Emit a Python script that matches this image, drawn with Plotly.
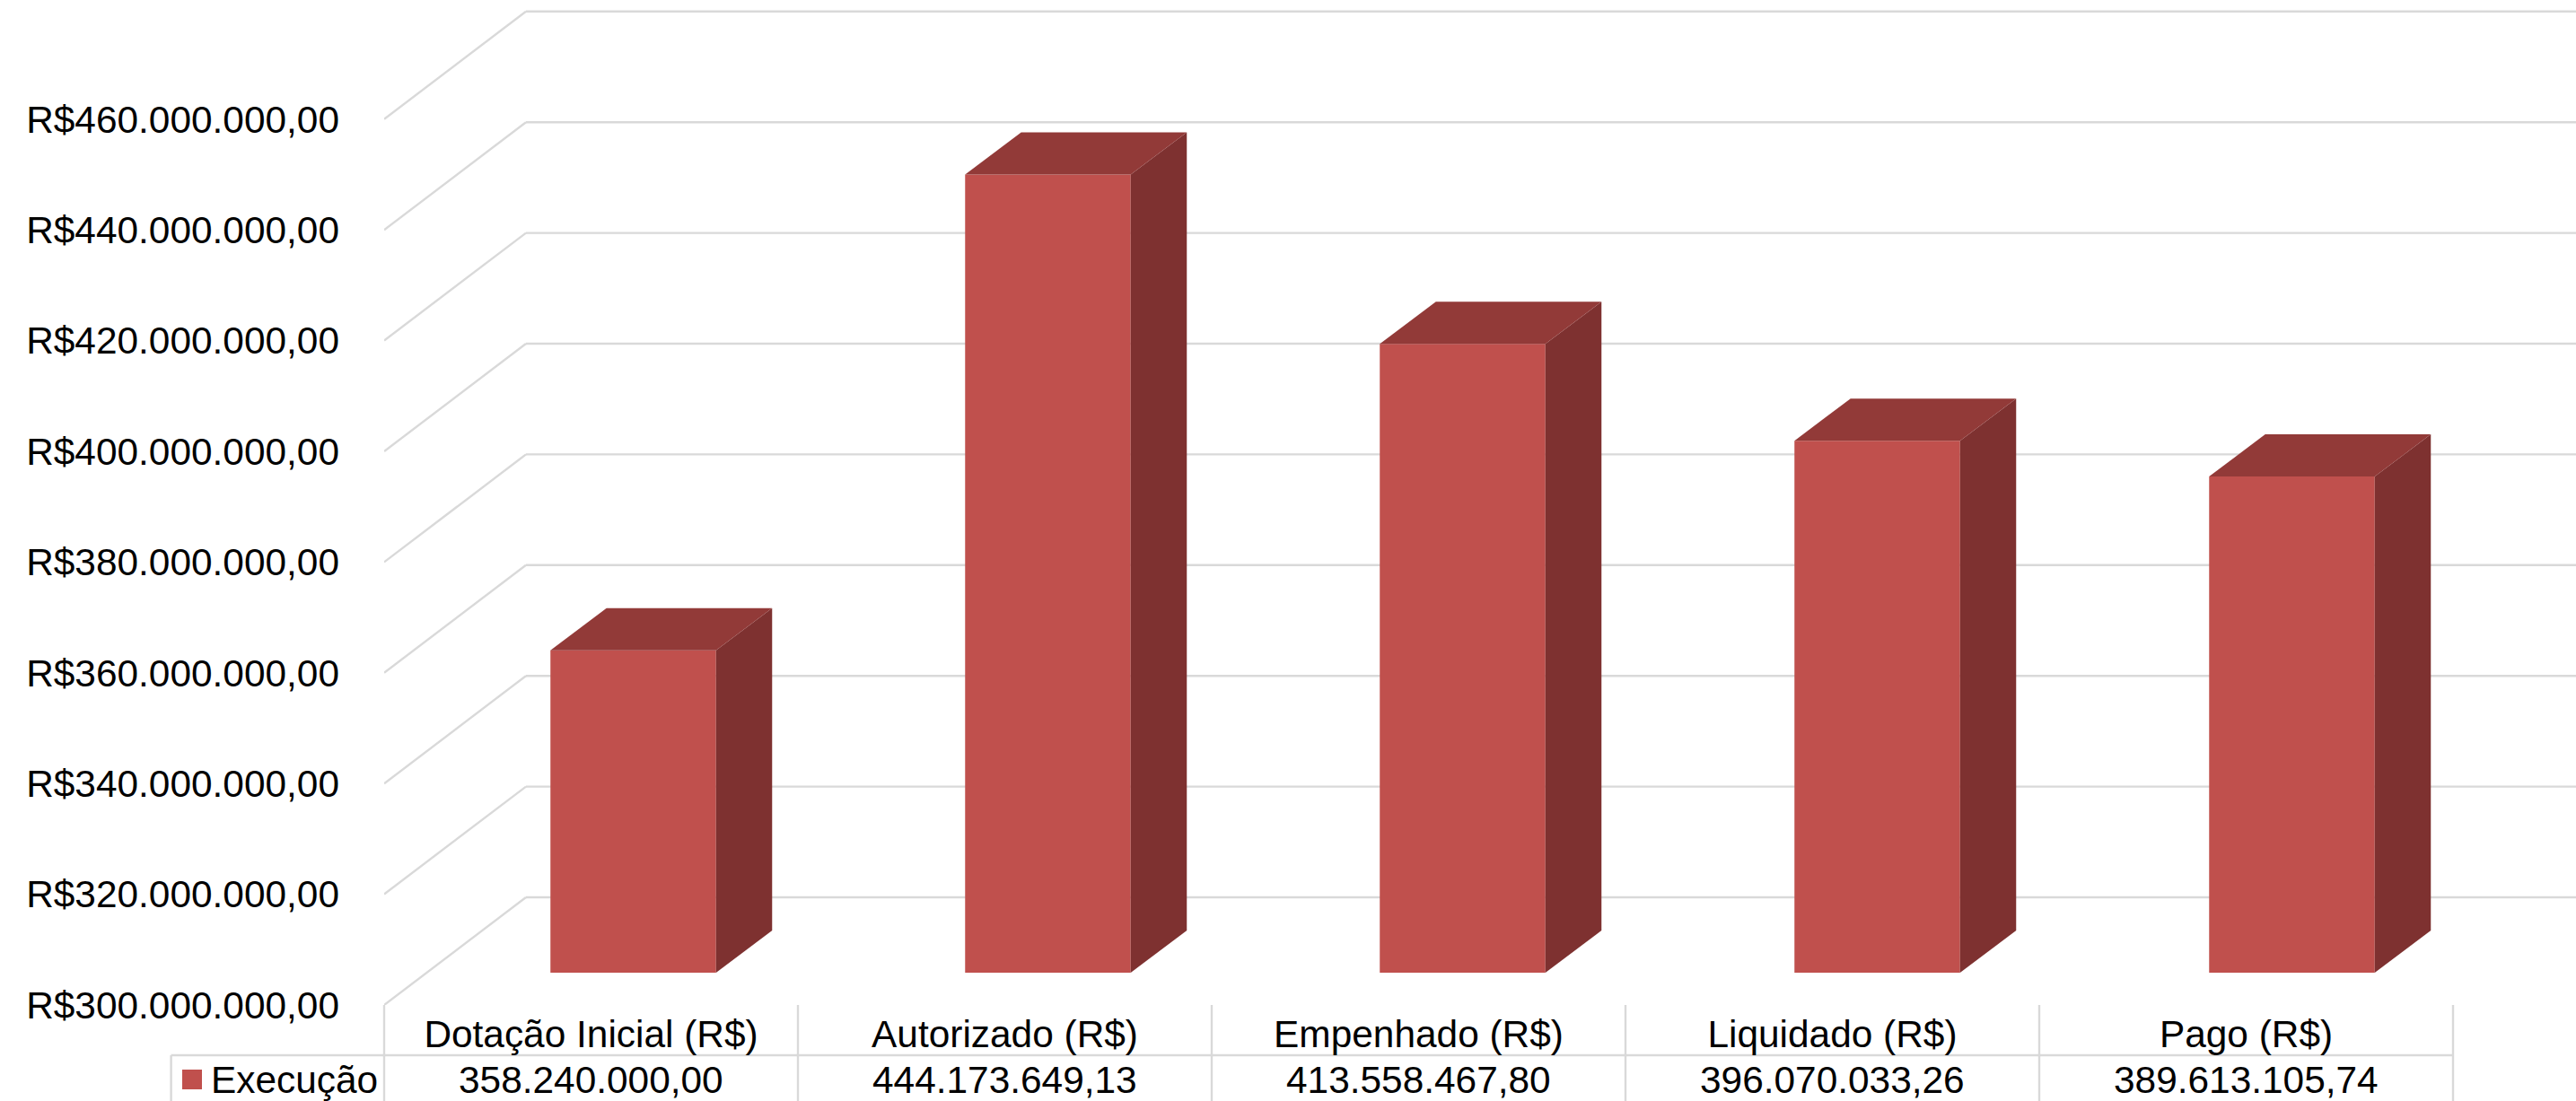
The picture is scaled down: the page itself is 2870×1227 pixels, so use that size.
import plotly.graph_objects as go

categories = ["Dotação Inicial (R$)", "Autorizado (R$)", "Empenhado (R$)", "Liquidado (R$)", "Pago (R$)"]
execucao = [358240000.00, 444173649.13, 413558467.80, 396070033.26, 389613105.74]
axis_ticks = [300000000, 320000000, 340000000, 360000000, 380000000, 400000000, 420000000, 440000000, 460000000]
series_name = "Execução"

W, H = 2870, 1227
LEFT, BOTTOM = 428, 1120           # plot-area corner in pixels
COL = 461.0                        # pixels per table column
BAR_STEP = 462.0                   # pixels between bars
PX_PER_VALUE = 123.4 / 20000000    # pixels per R$


def br(v, prefix=""):
    s = f"{v:,.2f}".replace(",", "#").replace(".", ",").replace("#", ".")
    return prefix + s


def dx(px):
    return px / COL


def dv(px):
    return px / PX_PER_VALUE


def paper_x(px):
    return (px - LEFT) / (W - LEFT)


def paper_y(py):
    return (BOTTOM - py) / BOTTOM


FLOOR = axis_ticks[0]
WALL_DX, WALL_DV = dx(158), dv(120)     # wall depth
BAR_DX, BAR_DV = dx(62.5), dv(47)       # bar depth
FRONT_DX, FRONT_DV = dx(47), dv(36)     # bar front plane offset
BAR_W = dx(184.5)
x_min = -0.5
x_max = x_min + (W - LEFT) / COL

GRID = "#D9D9D9"
FACE, SIDE, TOP = "#C0504D", "#7E3130", "#923A38"

fig = go.Figure()
bar_x = [i * BAR_STEP / COL + FRONT_DX for i in range(len(categories))]

# front faces
fig.add_trace(go.Bar(
    x=bar_x,
    y=[v - FLOOR for v in execucao],
    base=FLOOR + FRONT_DV,
    width=BAR_W,
    marker=dict(color=FACE, line=dict(width=0)),
    name=series_name,
    showlegend=False,
    hoverinfo="skip",
))

# side and top faces
for cx, v in zip(bar_x, execucao):
    xl = cx - BAR_W / 2
    xr = cx + BAR_W / 2
    y0 = FLOOR + FRONT_DV
    y1 = v + FRONT_DV
    fig.add_trace(go.Scatter(
        x=[xr, xr + BAR_DX, xr + BAR_DX, xr, xr],
        y=[y0, y0 + BAR_DV, y1 + BAR_DV, y1, y0],
        mode="lines", fill="toself", fillcolor=SIDE, line=dict(width=0),
        showlegend=False, hoverinfo="skip",
    ))
    fig.add_trace(go.Scatter(
        x=[xl, xl + BAR_DX, xr + BAR_DX, xr, xl],
        y=[y1, y1 + BAR_DV, y1 + BAR_DV, y1, y1],
        mode="lines", fill="toself", fillcolor=TOP, line=dict(width=0),
        showlegend=False, hoverinfo="skip",
    ))

shapes = []
# wall gridlines: diagonal then horizontal
for t in axis_ticks:
    shapes.append(dict(type="line", layer="below", xref="x", yref="y",
                       x0=x_min, y0=t, x1=x_min + WALL_DX, y1=t + WALL_DV,
                       line=dict(color=GRID, width=2.4)))
    shapes.append(dict(type="line", layer="below", xref="x", yref="y",
                       x0=x_min + WALL_DX, y0=t + WALL_DV, x1=x_max, y1=t + WALL_DV,
                       line=dict(color=GRID, width=2.4)))

# data table lines
TABLE_LEFT, ROW_LINE = 190.6, 1176
shapes.append(dict(type="line", layer="below", xref="paper", yref="paper",
                   x0=paper_x(TABLE_LEFT), y0=paper_y(ROW_LINE),
                   x1=paper_x(LEFT + COL * len(categories)), y1=paper_y(ROW_LINE),
                   line=dict(color=GRID, width=2.4)))
shapes.append(dict(type="line", layer="below", xref="paper", yref="paper",
                   x0=paper_x(TABLE_LEFT), y0=paper_y(ROW_LINE),
                   x1=paper_x(TABLE_LEFT), y1=paper_y(H),
                   line=dict(color=GRID, width=2.4)))
for k in range(len(categories) + 1):
    shapes.append(dict(type="line", layer="below", xref="paper", yref="paper",
                       x0=paper_x(LEFT + COL * k), y0=paper_y(BOTTOM),
                       x1=paper_x(LEFT + COL * k), y1=paper_y(H),
                       line=dict(color=GRID, width=2.4)))
# legend key
shapes.append(dict(type="rect", layer="above", xref="paper", yref="paper",
                   x0=paper_x(203), y0=paper_y(1192), x1=paper_x(225), y1=paper_y(1214),
                   fillcolor=FACE, line=dict(width=0)))

annotations = [dict(xref="x", yref="paper", x=i, y=paper_y(1203), text=br(v),
                    showarrow=False, xanchor="center", yanchor="middle",
                    font=dict(size=42.4, color="#000000"))
               for i, v in enumerate(execucao)]
annotations.append(dict(xref="paper", yref="paper", x=paper_x(233), y=paper_y(1203),
                        text=series_name, showarrow=False, xanchor="left", yanchor="middle",
                        font=dict(size=42.4, color="#000000")))

fig.update_layout(
    width=W, height=H,
    margin=dict(l=LEFT, r=0, t=0, b=H - BOTTOM, pad=0),
    paper_bgcolor="#FFFFFF", plot_bgcolor="#FFFFFF",
    font=dict(family="Liberation Sans, Arial, sans-serif", size=42.4, color="#000000"),
    showlegend=False,
    shapes=shapes,
    annotations=annotations,
    xaxis=dict(range=[x_min, x_max], tickvals=list(range(len(categories))), ticktext=categories,
               showgrid=False, zeroline=False, showline=False, ticks="", ticklabelstandoff=4),
    yaxis=dict(range=[FLOOR, FLOOR + dv(BOTTOM)], tickvals=axis_ticks,
               ticktext=[br(t, "R$") for t in axis_ticks],
               showgrid=False, zeroline=False, showline=False, ticks="", ticklabelstandoff=49),
)

fig.write_html("out.html", config=dict(displayModeBar=False),
               post_script="document.body.style.margin='0';document.documentElement.style.overflow='hidden';")
